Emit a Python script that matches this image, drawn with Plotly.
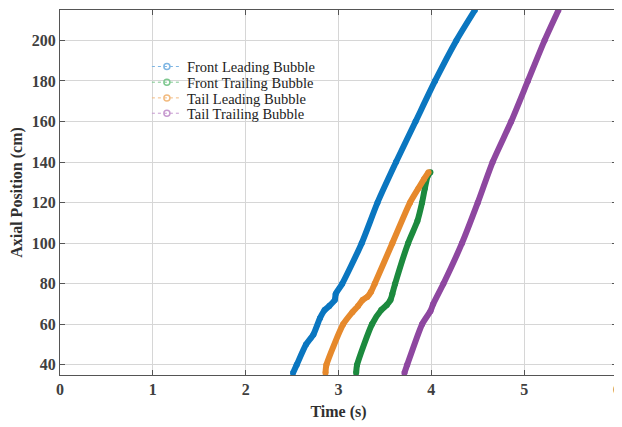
import plotly.graph_objects as go

# Front Leading Bubble
fl_t = [2.51, 2.55, 2.65, 2.73, 2.80, 2.85, 2.90, 2.96, 2.97, 3.04, 3.25, 3.42, 3.62, 3.83, 4.04, 4.27, 4.47]
fl_y = [36, 40, 50, 55, 63, 67, 69, 72, 75, 80, 100, 120, 140, 160, 180, 200, 215]
# Front Trailing Bubble
ft_t = [3.19, 3.20, 3.36, 3.46, 3.52, 3.56, 3.58, 3.61, 3.75, 3.85, 3.90, 3.93, 3.96, 3.99]
ft_y = [36, 40, 60, 67, 69.5, 72, 75, 80, 100, 111, 120, 127, 133, 135]
# Tail Leading Bubble
tl_t = [2.86, 2.87, 3.05, 3.15, 3.21, 3.26, 3.31, 3.35, 3.39, 3.58, 3.77, 3.86, 3.92, 3.97]
tl_y = [36, 40, 60, 66, 69, 72, 73.5, 76, 80, 100, 120, 127, 131.5, 135]
# Tail Trailing Bubble
tt_t = [3.71, 3.74, 3.90, 3.99, 4.02, 4.13, 4.33, 4.50, 4.66, 4.86, 5.04, 5.22, 5.37]
tt_y = [36, 40, 60, 66.5, 70, 80, 100, 120, 140, 160, 180, 200, 215]

names = ["Front Leading Bubble", "Front Trailing Bubble", "Tail Leading Bubble", "Tail Trailing Bubble"]
colors = ["#0a76c0", "#1c8a3e", "#e6892c", "#8e47a0"]
legend_colors = ["#7fb6e3", "#7fc890", "#f2bb80", "#c79ad0"]
series = [(fl_t, fl_y), (ft_t, ft_y), (tl_t, tl_y), (tt_t, tt_y)]

x_ticks = [0, 1, 2, 3, 4, 5, 6]
y_ticks = [40, 60, 80, 100, 120, 140, 160, 180, 200]

font = "Liberation Serif, Times New Roman, serif"
legend_ids = ["legend", "legend2", "legend3", "legend4"]
legend_rows = [0.845, 0.802, 0.759, 0.717]

fig = go.Figure()
for (t, y), c in zip(series, colors):
    fig.add_trace(go.Scatter(
        x=t, y=y, mode="lines+markers",
        line=dict(color=c, width=6, shape="spline", smoothing=0.6),
        marker=dict(color=c, size=6, symbol="circle"),
        showlegend=False, hoverinfo="skip", cliponaxis=True))
for n, lc, lid in zip(names, legend_colors, legend_ids):
    fig.add_trace(go.Scatter(
        x=[None], y=[None], mode="lines+markers", name=n, legend=lid,
        line=dict(color=lc, width=1, dash="dot"),
        marker=dict(color=lc, size=6, symbol="circle-open", line=dict(width=1.5, color=lc))))

axis_common = dict(
    showline=True, linecolor="#555555", linewidth=1, mirror="ticks",
    ticks="inside", ticklen=5, tickcolor="#555555",
    showgrid=True, gridcolor="#d6d6d6", gridwidth=1, zeroline=False,
    automargin=False,
    tickfont=dict(family=font, size=16, color="#404040", weight="bold"),
)
fig.update_xaxes(range=[0, 6], tickvals=x_ticks, **axis_common,
                 title=dict(text="Time (s)", font=dict(family=font, size=16, color="#303030", weight="bold"), standoff=8))
fig.update_yaxes(range=[35, 215], tickvals=y_ticks, **axis_common,
                 title=dict(text="Axial Position (cm)", font=dict(family=font, size=16, color="#303030", weight="bold"), standoff=6))

legend_style = dict(xanchor="left", yanchor="middle", bgcolor="rgba(0,0,0,0)", borderwidth=0,
                    font=dict(family=font, size=14.5, color="#222222"), itemwidth=30)
layout_legends = {}
for lid, ry in zip(legend_ids, legend_rows):
    layout_legends[lid] = dict(x=0.156, y=ry, **legend_style)

# white legend box hiding the grid behind the legend
fig.add_shape(type="rect", xref="paper", yref="paper",
              x0=0.174, x1=0.472, y0=0.68, y1=0.89,
              fillcolor="white", line=dict(width=0), layer="between")

# The page body has an 8px default margin, so the figure is sized/margined to compensate.
fig.update_layout(
    width=614, height=419,
    margin=dict(l=52, r=5, t=2, b=52),
    paper_bgcolor="white", plot_bgcolor="white",
    **layout_legends,
)
fig.write_html("out.html")
